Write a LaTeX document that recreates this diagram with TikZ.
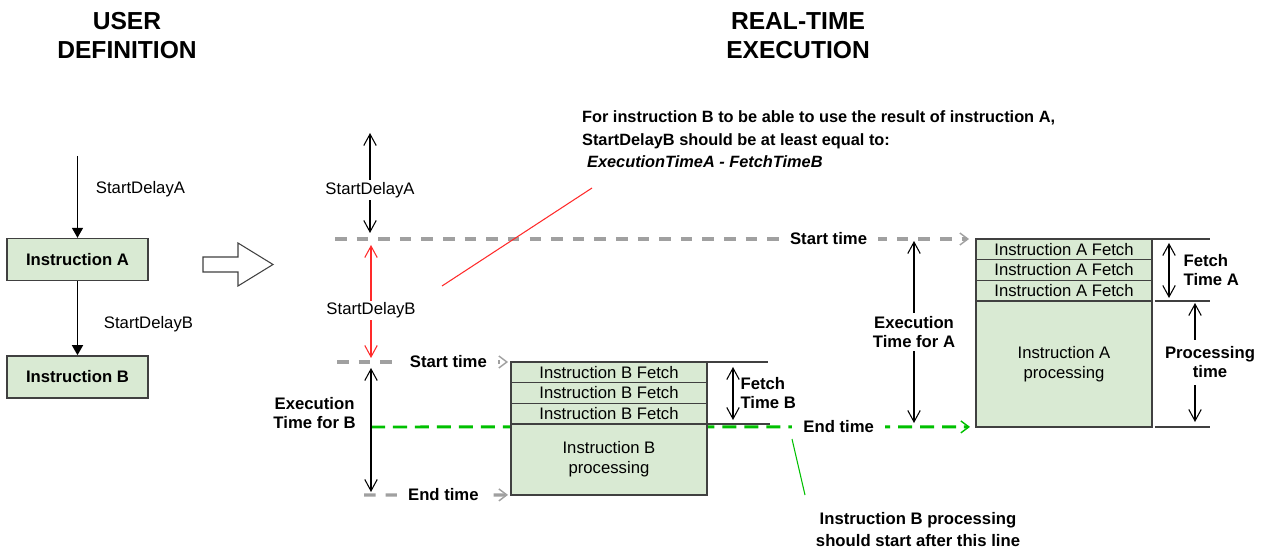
\documentclass[tikz,border=0pt]{standalone}
\usepackage{fontspec}
\setmainfont{Liberation Sans}
\usetikzlibrary{arrows.meta,positioning}
\definecolor{BoxFill}{HTML}{D9EAD3}
\definecolor{BoxLine}{HTML}{404040}
\definecolor{MarkGray}{HTML}{A0A0A0}
\definecolor{MarkGreen}{HTML}{00C000}
\definecolor{MarkRed}{HTML}{FF2A2A}
\tikzset{
  lblreg/.style={font=\fontsize{9.5}{11.4}\selectfont, inner sep=1pt},
  lblbold/.style={font=\fontsize{9.5}{10.8}\selectfont\bfseries, inner sep=1pt},
  headline/.style={font=\fontsize{14}{16.5}\selectfont\bfseries, align=center},
  userbox/.style={draw=BoxLine, fill=BoxFill, line width=0.8pt, minimum width=2.82cm,
    minimum height=0.84cm, font=\fontsize{9.5}{11.4}\selectfont\bfseries},
  slot/.style={draw=BoxLine, fill=BoxFill, line width=0.8pt, inner sep=0pt, outer sep=0pt,
    font=\fontsize{9.5}{11.4}\selectfont, align=center},
  spanarrow/.style={{Straight Barb[length=2.3mm,width=2.5mm]}-{Straight Barb[length=2.3mm,width=2.5mm]},
    line width=0.6pt},
  flowarrow/.style={-{Triangle[length=2mm,width=2.2mm]}, line width=0.8pt},
  timeline/.style={MarkGray, line width=1.8pt, dash pattern=on 6.6pt off 5.7pt,
    -{Straight Barb[length=1.6mm,width=2.4mm,line width=0.8pt]}},
  endline/.style={MarkGreen, line width=1.7pt, dash pattern=on 8pt off 4.5pt,
    -{Straight Barb[length=1.6mm,width=2.4mm,line width=0.8pt]}},
  gapfill/.style={fill=white, text=black, inner ysep=1pt, inner xsep=0.22cm},
  dimtick/.style={BoxLine, line width=0.8pt},
}
\begin{document}
\begin{tikzpicture}[x=0.02cm, y=-0.02cm]
  \useasboundingbox (0,0) rectangle (1263,553);
  % titles
  \node[headline] (userTitle) at (127,36) {USER\\DEFINITION};
  \node[headline] (rtTitle) at (798,36) {REAL-TIME\\EXECUTION};
  % user definition
  \node[userbox] (ia) at (77.5,259.5) {Instruction A};
  \node[userbox, below=1.48cm of ia] (ib) {Instruction B};
  \coordinate (userStart) at (77.5,156);
  \draw[flowarrow] (userStart) -- node[lblreg, right=0.32cm, pos=0.4] {StartDelayA} (ia.north);
  \draw[flowarrow] (ia.south) -- node[lblreg, right=0.48cm, pos=0.58] {StartDelayB} (ib.north);
  % block arrow
  \draw[BoxLine, line width=0.6pt, fill=white]
    (203,257) -- (238,257) -- (238,243) -- (273,264.5) -- (238,286) -- (238,272) -- (203,272) -- cycle;
  % instruction A in real time
  \node[slot, minimum width=3.52cm, minimum height=0.413cm, anchor=north west] (fa1) at (976,239) {Instruction A Fetch};
  \foreach \i/\j in {2/1,3/2}
    {\node[slot, minimum width=3.52cm, minimum height=0.413cm, below=0pt of fa\j] (fa\i) {Instruction A Fetch};}
  \node[slot, minimum width=3.52cm, minimum height=2.52cm, below=0pt of fa3] (fa4) {Instruction A\\processing};
  % start and end lines
  \coordinate (startA) at (335,239);
  \draw[timeline, shorten >=0.14cm] (startA) -- node[lblbold, gapfill, pos=0.77] {Start time} (fa1.north west);
  \coordinate (endB) at (371,427);
  \draw[endline, shorten >=0.12cm] (endB) -- node[lblbold, gapfill, pos=0.773] {End time} (fa4.south west);
  % instruction B in real time
  \node[slot, minimum width=3.92cm, minimum height=0.413cm, anchor=north west] (fb1) at (511,362) {Instruction B Fetch};
  \foreach \i/\j in {2/1,3/2}
    {\node[slot, minimum width=3.92cm, minimum height=0.413cm, below=0pt of fb\j] (fb\i) {Instruction B Fetch};}
  \node[slot, minimum width=3.92cm, minimum height=1.42cm, below=0pt of fb3] (fb4) {Instruction B\\processing};
  \coordinate (startB) at (337,362);
  \draw[timeline, shorten >=0.06cm] (startB) -- node[lblbold, gapfill, pos=0.64] {Start time} (fb1.north west);
  \coordinate (endGray) at (364,495);
  \draw[timeline, shorten >=0.06cm] (endGray) -- node[lblbold, gapfill, pos=0.54] {End time} (fb4.south west);
  % delays
  \coordinate (sdaTop) at (370,133);
  \coordinate (sdaBot) at (370,233);
  \draw[spanarrow] (sdaTop) -- node[lblreg, fill=white, pos=0.57] {StartDelayA} (sdaBot);
  \coordinate (sdbTop) at (371,245);
  \coordinate (sdbBot) at (371,358);
  \draw[spanarrow, MarkRed] (sdbTop) -- node[lblreg, fill=white, text=black, pos=0.58] {StartDelayB} (sdbBot);
  \coordinate (exbTop) at (371,368);
  \coordinate (exbBot) at (371,492);
  \draw[spanarrow] (exbTop) -- node[lblbold, align=center, left=0.26cm, pos=0.36] {Execution\\Time for B} (exbBot);
  \coordinate (exaTop) at (914,241);
  \coordinate (exaBot) at (914,423);
  \draw[spanarrow] (exaTop) -- node[lblbold, align=center, fill=white, inner ysep=2pt] {Execution\\Time for A} (exaBot);
  % fetch and processing times
  \draw[dimtick] (fb1.north east) -- ++(61,0);
  \draw[dimtick] (fb3.south east) -- ++(63,0);
  \coordinate (ftbTop) at (733,367);
  \coordinate (ftbBot) at (733,420);
  \draw[spanarrow] (ftbTop) -- node[lblbold, align=left, right=3pt] {Fetch\\Time B} (ftbBot);
  \draw[dimtick] (fa1.north east) -- ++(58,0);
  \draw[dimtick] ([xshift=0.06cm]fa3.south east) -- ++(55,0);
  \draw[dimtick] ([xshift=0.06cm]fa4.south east) -- ++(55,0);
  \coordinate (ftaTop) at (1169,243);
  \coordinate (ftaBot) at (1169,298);
  \draw[spanarrow] (ftaTop) -- node[lblbold, align=left, right=7pt] {Fetch\\Time A} (ftaBot);
  \coordinate (prTop) at (1195,303);
  \coordinate (prBot) at (1195,422);
  \draw[spanarrow] (prTop) -- node[lblbold, align=center, fill=white, inner ysep=4pt, xshift=0.3cm] {Processing\\time} (prBot);
  % notes
  \node[lblbold, align=left, anchor=west, font=\fontsize{9.3}{12.8}\selectfont\bfseries] (note) at (580,139.5)
    {For instruction B to be able to use the result of instruction A,\\StartDelayB should be at least equal to:\\\hspace*{0.1cm}\textit{ExecutionTimeA - FetchTimeB}};
  \coordinate (redTail) at (442,286);
  \coordinate (redHead) at (592,188);
  \draw[MarkRed, line width=0.6pt] (redTail) -- (redHead);
  \node[lblbold, align=center, font=\fontsize{9.5}{12.5}\selectfont\bfseries] (greenNote) at (918,530)
    {Instruction B processing\\should start after this line};
  \coordinate (greenTail) at (792,439);
  \coordinate (greenHead) at (805,495);
  \draw[MarkGreen, line width=0.6pt] (greenTail) -- (greenHead);
\end{tikzpicture}
\end{document}
